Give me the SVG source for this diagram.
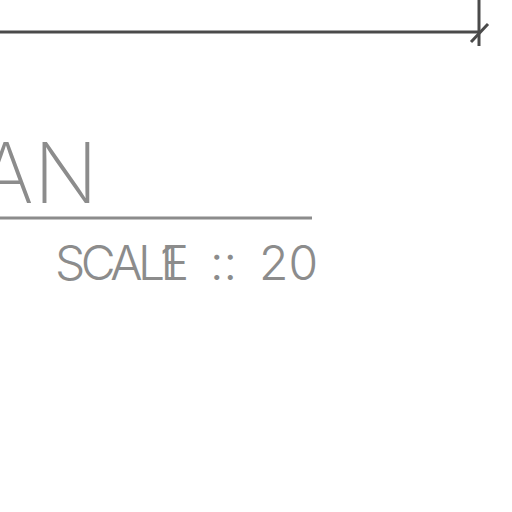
<svg xmlns="http://www.w3.org/2000/svg" width="512" height="512" viewBox="0 0 512 512">
<style>
.dim{stroke:#4a4a4a;stroke-width:3;fill:none;stroke-linecap:butt}
.t{fill:#8c8c8c;font-family:Inter,"DejaVu Sans",sans-serif}
.title{font-size:84px;font-weight:200}
.scale{font-size:48px;font-weight:300}
</style>
<rect width="512" height="512" fill="#fff"/>
<g id="dimension">
<line class="dim" x1="0" y1="32" x2="479" y2="32"/>
<line class="dim" x1="479" y1="0" x2="479" y2="46"/>
<line class="dim" x1="471" y1="42" x2="488" y2="24"/>
</g>
<g id="title">
<text class="t title" x="98" y="203" text-anchor="end">PLAN</text>
<line x1="0" y1="218" x2="312" y2="218" stroke="#8c8c8c" stroke-width="3"/>
</g>
<g id="scale">
<text class="t scale" x="55" y="280" textLength="134" lengthAdjust="spacing">SCALE</text>
<text class="t scale" x="160" y="280">1</text>
<text class="t scale" x="210" y="280">::</text>
<text class="t scale" x="259" y="280">20</text>
</g>
</svg>
